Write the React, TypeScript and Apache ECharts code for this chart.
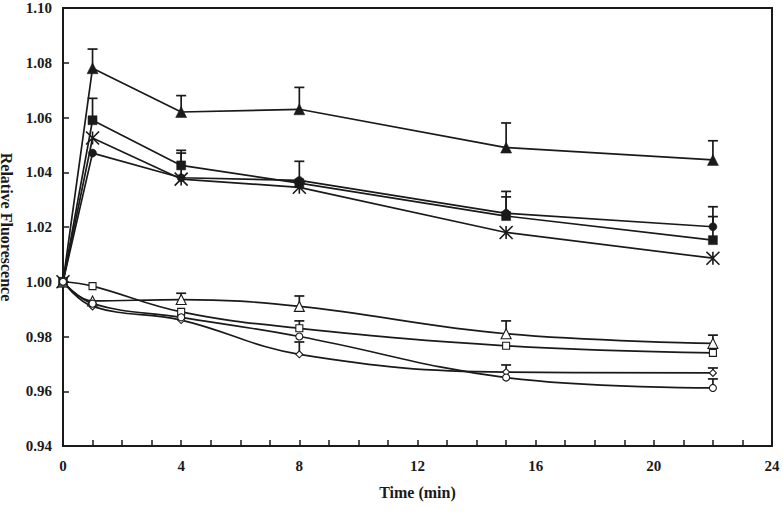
import React, { useEffect, useRef } from "react";
import * as echarts from "echarts";

const time = [0, 1, 4, 8, 15, 22];
const xTicks = [0, 4, 8, 12, 16, 20, 24];
const yTicks = [0.94, 0.96, 0.98, 1.0, 1.02, 1.04, 1.06, 1.08, 1.1];

// upper group (filled markers)
const filledTriangle = [1.0, 1.078, 1.062, 1.063, 1.049, 1.0445];
const filledTriangleErr = [null, 1.085, 1.068, 1.071, 1.058, 1.0515];
const filledSquare = [1.0, 1.059, 1.0425, 1.036, 1.024, 1.0152];
const filledSquareErr = [null, 1.067, 1.048, 1.044, 1.033, 1.0274];
const filledCircle = [1.0, 1.047, 1.038, 1.037, 1.025, 1.0201];
const filledCircleErr = [null, null, 1.047, null, 1.031, 1.0238];
const crossX = [1.0, 1.0525, 1.0375, 1.0345, 1.018, 1.0086];

// lower group (open markers)
const openTriangle = [1.0, 0.993, 0.9935, 0.991, 0.981, 0.9775];
const openTriangleErr = [null, null, 0.9958, 0.9948, 0.9857, 0.9805];
const openSquare = [1.0, 0.9984, 0.989, 0.983, 0.9766, 0.974];
const openSquareErr = [null, null, null, 0.9857, null, null];
const openDiamond = [1.0, 0.991, 0.986, 0.9735, 0.967, 0.9667];
const openDiamondErr = [null, null, null, 0.978, 0.9696, 0.9685];
const openCircle = [1.0, 0.992, 0.987, 0.98, 0.965, 0.9612];
const openCircleErr = [null, null, null, null, null, 0.9645];

const INK = "#1a1a1a";
const FONT = "'Liberation Serif', 'Times New Roman', serif";

const pairs = (ys: number[]) => time.map((t, i) => [t, ys[i]]);
const errPairs = (ys: number[], tops: (number | null)[]) =>
  time
    .map((t, i) => (tops[i] == null ? null : [t, ys[i], tops[i] as number]))
    .filter((d) => d !== null) as number[][];

const crossPath = "path://M0,0L10,10M10,0L0,10M5,0L5,10";

function lineSeries(
  name: string,
  ys: number[],
  symbol: string,
  size: number,
  filled: boolean,
  smooth: number | boolean
) {
  return {
    name,
    type: "line",
    data: pairs(ys),
    symbol,
    symbolSize: size,
    smooth,
    z: 3,
    lineStyle: { color: INK, width: 1.7 },
    itemStyle: filled
      ? { color: INK, borderColor: INK, borderWidth: 0.5 }
      : { color: "#ffffff", borderColor: INK, borderWidth: 1.1 },
  };
}

function errSeries(ys: number[], tops: (number | null)[]) {
  return {
    type: "custom",
    data: errPairs(ys, tops),
    z: 2,
    renderItem: (_params: any, api: any) => {
      const x = api.value(0);
      const y = api.value(1);
      const t = api.value(2);
      const p0 = api.coord([x, y]);
      const p1 = api.coord([x, t]);
      return {
        type: "group",
        children: [
          {
            type: "line",
            shape: { x1: p0[0], y1: p0[1], x2: p1[0], y2: p1[1] },
            style: { stroke: INK, lineWidth: 1.7 },
          },
          {
            type: "line",
            shape: { x1: p1[0] - 5, y1: p1[1], x2: p1[0] + 5, y2: p1[1] },
            style: { stroke: INK, lineWidth: 1.7 },
          },
        ],
      };
    },
  };
}

export default function App() {
  const ref = useRef<HTMLDivElement>(null);
  useEffect(() => {
    if (!ref.current) return;
    const chart = echarts.init(ref.current, null, { renderer: "svg" });
    const crossSeries: any = lineSeries("X", crossX, crossPath, 13, false, false);
    crossSeries.itemStyle = { color: "none", borderColor: INK, borderWidth: 1.6 };
    chart.setOption({
      animation: false,
      backgroundColor: "#ffffff",
      grid: {
        left: 63,
        right: 11,
        top: 8,
        bottom: 69,
        show: true,
        borderColor: INK,
        borderWidth: 2,
        containLabel: false,
        outerBoundsMode: "none",
      },
      xAxis: {
        type: "value",
        min: xTicks[0],
        max: xTicks[xTicks.length - 1],
        interval: 4,
        name: "Time (min)",
        nameLocation: "middle",
        nameGap: 38,
        nameTextStyle: { fontFamily: FONT, fontWeight: "bold", fontSize: 16, color: INK },
        axisLine: { show: true, lineStyle: { color: INK, width: 2 } },
        axisTick: { show: true, inside: true, length: 6, lineStyle: { color: INK, width: 1.5 } },
        minorTick: { show: true, splitNumber: 4, length: 6, lineStyle: { color: INK, width: 1.5 } },
        splitLine: { show: false },
        axisLabel: {
          fontFamily: FONT,
          fontWeight: "bold",
          fontSize: 15,
          color: INK,
          margin: 12,
        },
      },
      yAxis: {
        type: "value",
        min: yTicks[0],
        max: yTicks[yTicks.length - 1],
        interval: 0.02,
        name: "Relative Fluorescence",
        nameLocation: "middle",
        nameRotate: -90,
        nameGap: 41,
        nameTextStyle: { fontFamily: FONT, fontWeight: "bold", fontSize: 16, color: INK },
        axisLine: { show: true, lineStyle: { color: INK, width: 2 } },
        axisTick: { show: true, inside: true, length: 6, lineStyle: { color: INK, width: 1.5 } },
        splitLine: { show: false },
        axisLabel: {
          fontFamily: FONT,
          fontWeight: "bold",
          fontSize: 15,
          color: INK,
          margin: 11,
          formatter: (v: number) => v.toFixed(2),
        },
      },
      series: [
        errSeries(filledTriangle, filledTriangleErr),
        errSeries(filledSquare, filledSquareErr),
        errSeries(filledCircle, filledCircleErr),
        errSeries(openTriangle, openTriangleErr),
        errSeries(openSquare, openSquareErr),
        errSeries(openDiamond, openDiamondErr),
        errSeries(openCircle, openCircleErr),
        lineSeries("filledTriangle", filledTriangle, "triangle", 11, true, false),
        lineSeries("filledSquare", filledSquare, "rect", 9, true, false),
        lineSeries("filledCircle", filledCircle, "circle", 8, true, false),
        crossSeries,
        lineSeries("openTriangle", openTriangle, "triangle", 10, false, 0.4),
        lineSeries("openSquare", openSquare, "rect", 7, false, 0.4),
        lineSeries("openDiamond", openDiamond, "diamond", 7, false, 0.4),
        lineSeries("openCircle", openCircle, "circle", 7, false, 0.4),
      ],
    });
    return () => chart.dispose();
  }, []);
  return (
    <div
      ref={ref}
      style={{ position: "fixed", left: 0, top: 0, width: 783, height: 515 }}
    />
  );
}
